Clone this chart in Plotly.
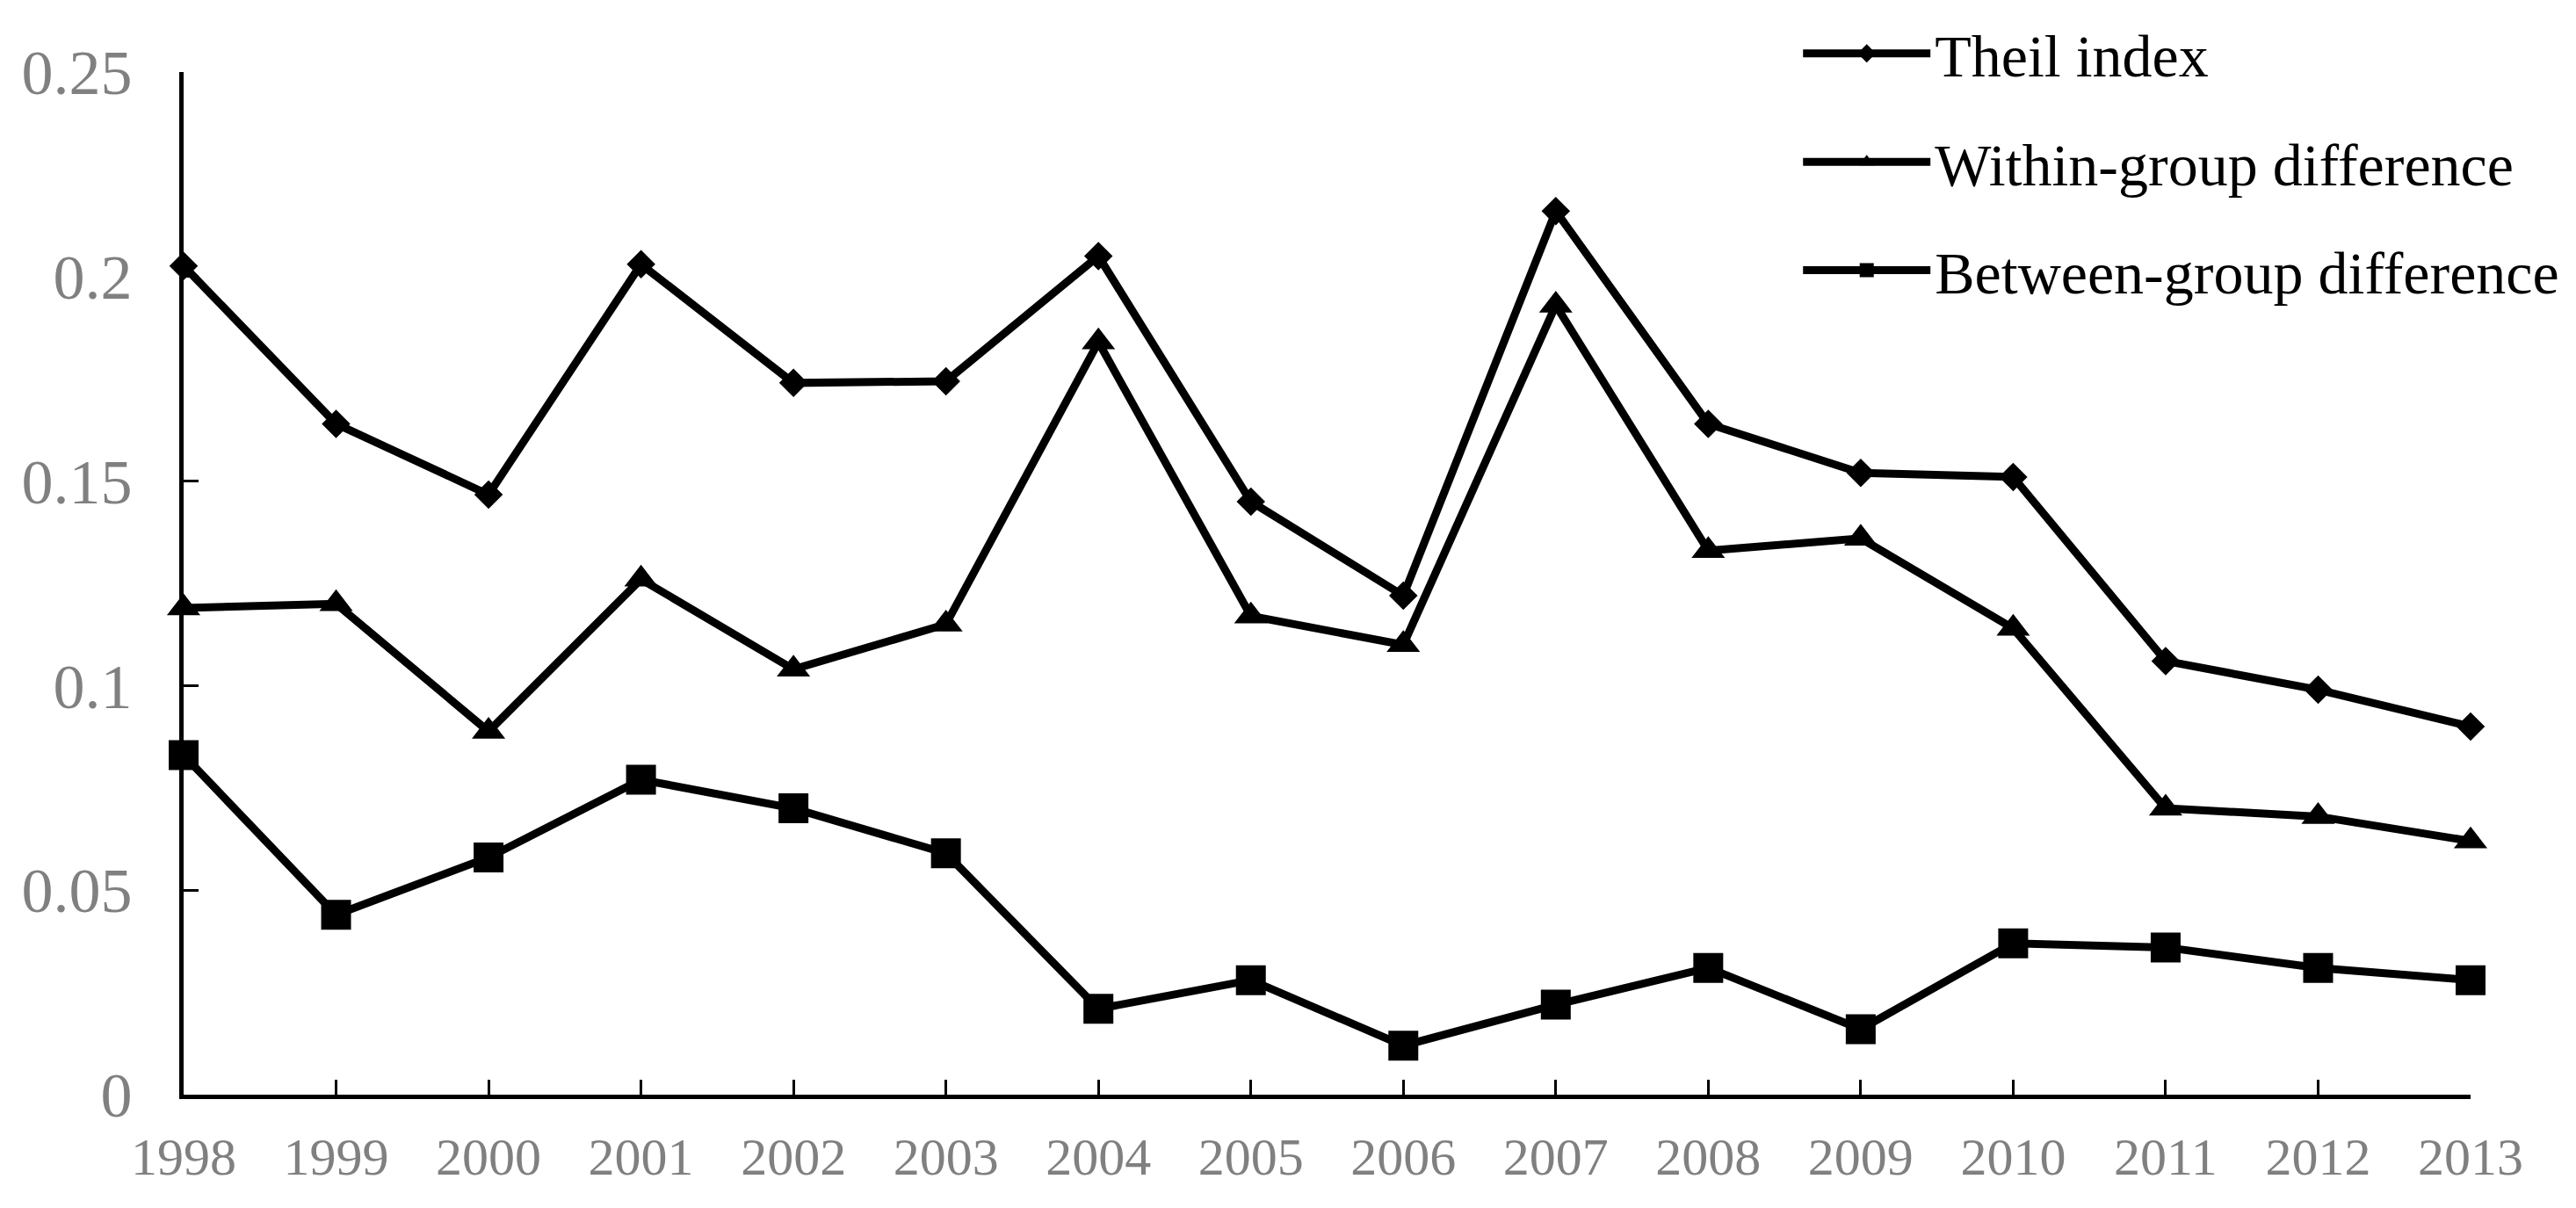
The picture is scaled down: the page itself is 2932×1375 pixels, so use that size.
import plotly.graph_objects as go

years = list(range(1998, 2014))

theil_index = [0.2026, 0.164, 0.1467, 0.203, 0.174, 0.1744, 0.205, 0.145,
               0.122, 0.216, 0.164, 0.152, 0.151, 0.106, 0.099, 0.090]
within_group = [0.119, 0.120, 0.0888, 0.126, 0.104, 0.115, 0.184, 0.117,
                0.110, 0.193, 0.133, 0.136, 0.114, 0.070, 0.068, 0.062]
between_group = [0.083, 0.044, 0.058, 0.077, 0.070, 0.059, 0.021, 0.028,
                 0.012, 0.022, 0.031, 0.016, 0.037, 0.036, 0.031, 0.028]

series = [
    ("Theil index", theil_index, "diamond", 25),
    ("Within-group difference", within_group, "triangle-up", 33),
    ("Between-group difference", between_group, "square", 34),
]

y_ticks = [0, 0.05, 0.1, 0.15, 0.2, 0.25]
y_tick_text = ["0", "0.05", "0.1", "0.15", "0.2", "0.25"]

font = "Liberation Serif, Times New Roman, serif"

fig = go.Figure()
for name, vals, sym, size in series:
    fig.add_trace(go.Scatter(
        x=years, y=vals, name=name, mode="lines+markers",
        legendgroup=name,
        line=dict(color="black", width=9),
        marker=dict(symbol=sym, size=size, color="black"),
        cliponaxis=False,
    ))

# page body has a default margin, so margins are nudged to compensate
fig.update_layout(
    width=2932, height=1375,
    paper_bgcolor="white", plot_bgcolor="white",
    margin=dict(l=201, r=128, t=74, b=137, autoexpand=False),
    font=dict(family=font, color="black"),
    showlegend=True,
    legend=dict(
        xref="container", yref="container",
        x=0.6955, y=0.9985, xanchor="left", yanchor="top",
        font=dict(size=68, family=font, color="black"),
        bgcolor="rgba(0,0,0,0)",
        tracegroupgap=32,
        itemwidth=145,
    ),
)
fig.update_xaxes(
    range=[1998, 2013], tickmode="array", tickvals=years,
    showline=True, linecolor="black", linewidth=5,
    ticks="inside", ticklen=17, tickwidth=3, tickcolor="black",
    showgrid=False, zeroline=False, automargin=False,
    tickfont=dict(size=60, color="#808080", family=font),
    ticklabelstandoff=14,
)
fig.update_yaxes(
    range=[0, 0.25], tickmode="array", tickvals=y_ticks, ticktext=y_tick_text,
    showline=True, linecolor="black", linewidth=5,
    ticks="inside", ticklen=17, tickwidth=3, tickcolor="black",
    showgrid=False, zeroline=False, automargin=False,
    tickfont=dict(size=72, color="#808080", family=font),
    ticklabelstandoff=39,
)

fig.write_html("out.html")
